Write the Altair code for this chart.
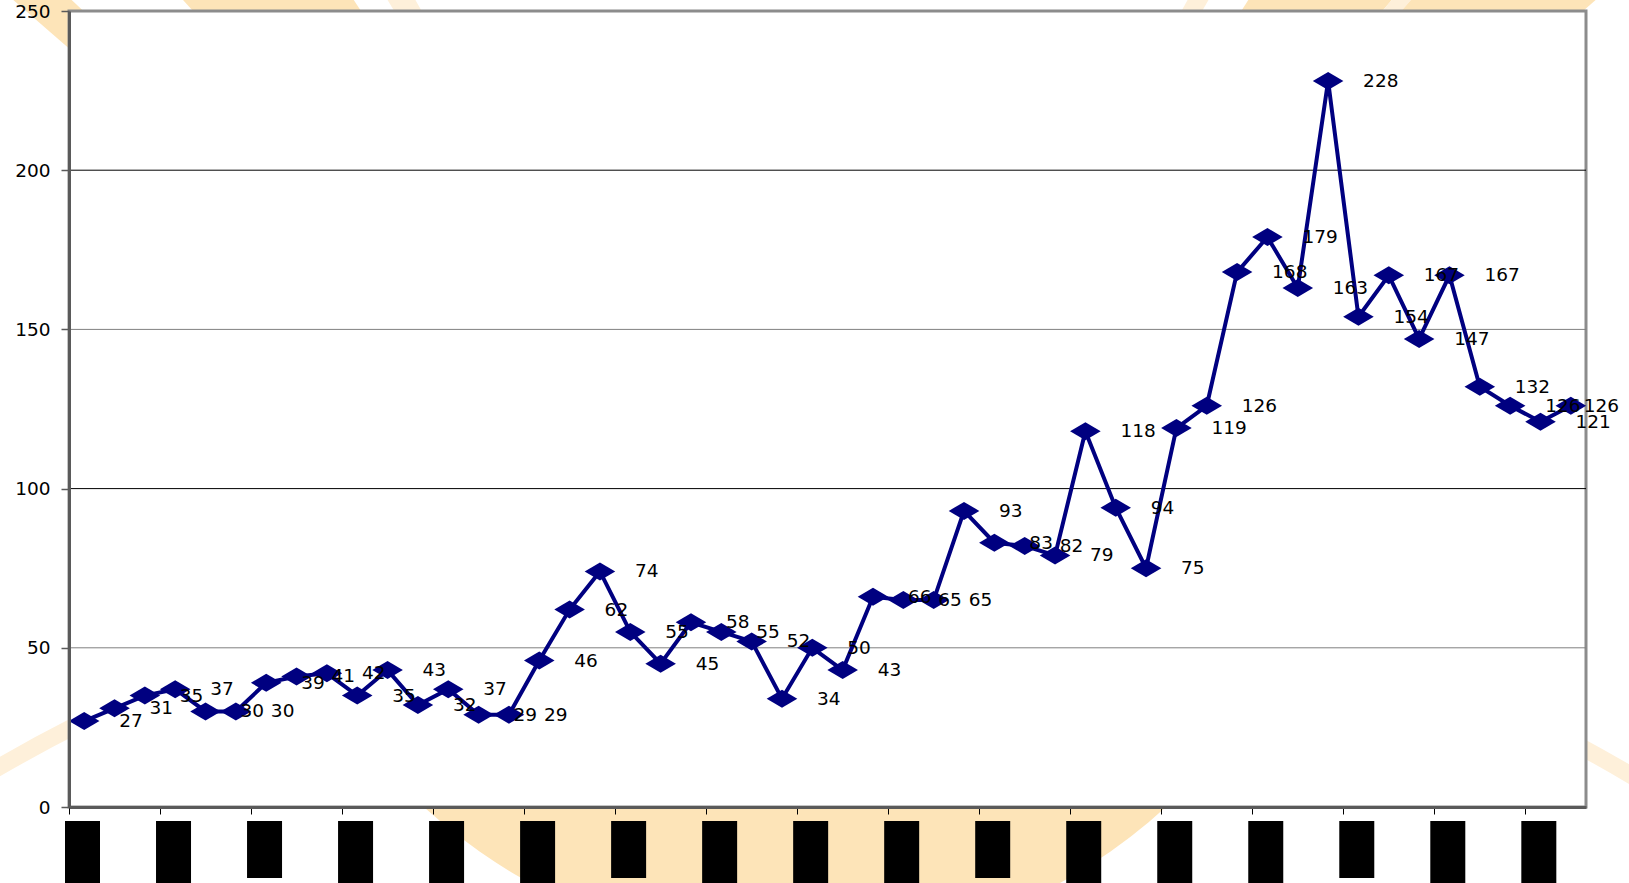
import altair as alt
import pandas as pd

# Monthly counts, one value per period (50 periods)
values = [27, 31, 35, 37, 30, 30, 39, 41, 42, 35,
          43, 32, 37, 29, 29, 46, 62, 74, 55, 45,
          58, 55, 52, 34, 50, 43, 66, 65, 65, 93,
          83, 82, 79, 118, 94, 75, 119, 126, 168, 179,
          163, 228, 154, 167, 147, 167, 132, 126, 121, 126]

# Category-axis tick marks (every third period) and their hidden labels
tick_marks = [0, 3, 6, 9, 12, 15, 18, 21, 24, 27, 30, 33, 36, 39, 42, 45, 48]
label_short = [False, False, True, False, False, False, True, False, False,
               False, True, False, False, False, True, False, False]

y_ticks = [0, 50, 100, 150, 200, 250]
grid_levels = [50, 100, 150, 200]
grid_shades = ["#808080", "#000000", "#808080", "#000000"]

W, H = 1517, 796
PEACH = "#FDE4B8"
LIGHT = "#FEF0DA"
NAVY = "#000080"
FONT = "DejaVu Sans"
FSIZE = 18.5

n = len(values)
df = pd.DataFrame({"pos": [i + 0.5 for i in range(n)], "value": values,
                   "last": [i == n - 1 for i in range(n)]})
boxes = pd.DataFrame({"tick": tick_marks, "short": label_short})
grid_df = pd.DataFrame({"level": grid_levels, "shade": grid_shades})
one = pd.DataFrame({"k": [0]})

x_scale = alt.Scale(domain=[0, 50], nice=False, zero=False)
y_scale = alt.Scale(domain=[0, 250], nice=False)

# Decorative background: sun rays, a large disc and a faint ring (pixel space)
wedges = [
    # cx, cy, inner r, outer r, theta start, theta end, colour
    (738, 679, 0, 1200, 5.428, 5.466, PEACH),
    (738, 679, 0, 1200, 5.548, 5.702, PEACH),
    (738, 679, 0, 1200, 5.737, 5.767, LIGHT),
    (738, 679, 0, 1200, 0.504, 0.527, LIGHT),
    (738, 679, 0, 1200, 0.569, 0.703, PEACH),
    (738, 679, 0, 1200, 0.703, 0.719, LIGHT),
    (738, 679, 0, 1200, 0.719, 0.852, PEACH),
    (726, 390, 0, 550, 1.745, 4.538, PEACH),
    (739, 2159, 1611, 1628, 5.72, 6.2832, LIGHT),
    (739, 2159, 1611, 1628, 0.0, 0.56, LIGHT),
]
deco_layers = []
for cx, cy, r0, r1, t0, t1, col in wedges:
    deco_layers.append(
        alt.Chart(one).mark_arc(theta=t0, theta2=t1, radius=r1, radius2=r0,
                                color=col, stroke=None)
        .encode(x=alt.value(cx), y=alt.value(cy))
    )

# White plot panel with a grey frame
panel = alt.Chart(one).mark_rect(fill="white", stroke="#8c8c8c", strokeWidth=3).encode(
    x=alt.value(0), x2=alt.value(W), y=alt.value(0), y2=alt.value(H)
)

grid = alt.Chart(grid_df).mark_rule(strokeWidth=1).encode(
    y=alt.Y("level:Q", scale=y_scale),
    color=alt.Color("shade:N", scale=None),
)

x_enc = alt.X("pos:Q", scale=x_scale,
              axis=alt.Axis(values=tick_marks, labels=False, ticks=True, tickSize=7,
                            tickColor="black", tickWidth=1, domainColor="#5a5a5a",
                            domainWidth=3, grid=False, title=None, zindex=1))
y_enc = alt.Y("value:Q", scale=y_scale,
              axis=alt.Axis(values=y_ticks, labelFont=FONT, labelFontSize=FSIZE,
                            labelColor="black", tickSize=8, tickColor="#5a5a5a",
                            tickWidth=1.5, labelPadding=11, domainColor="#5a5a5a",
                            domainWidth=3, grid=False, title=None, zindex=1))

base = alt.Chart(df)
line = base.mark_line(color=NAVY, strokeWidth=4).encode(x=x_enc, y=y_enc)
points = base.mark_point(shape="M-1.7,0L0,-1L1.7,0L0,1Z", filled=True, size=324,
                         color=NAVY, opacity=1).encode(x="pos:Q", y="value:Q")
labels = base.transform_filter("!datum.last").mark_text(
    align="left", baseline="middle", dx=35, font=FONT, fontSize=FSIZE, color="black"
).encode(x="pos:Q", y="value:Q", text="value:Q")
# the final label is pulled in so it stays inside the chart
last_label = base.transform_filter("datum.last").mark_text(
    align="left", baseline="middle", dx=13, font=FONT, fontSize=FSIZE, color="black"
).encode(x="pos:Q", y="value:Q", text="value:Q")

box_long = alt.Chart(boxes).transform_filter("!datum.short").mark_rect(
    color="black", xOffset=-4, x2Offset=31).encode(
    x=alt.X("tick:Q", scale=x_scale), x2="tick", y=alt.value(810), y2=alt.value(880))
box_short = alt.Chart(boxes).transform_filter("datum.short").mark_rect(
    color="black", xOffset=-4, x2Offset=31).encode(
    x=alt.X("tick:Q", scale=x_scale), x2="tick", y=alt.value(810), y2=alt.value(867))

chart = alt.layer(*deco_layers, panel, grid, line, points, labels, last_label,
                  box_long, box_short).properties(
    width=W, height=H,
    autosize=alt.AutoSizeParams(type="none"),
    padding={"left": 69, "top": 11, "right": 43, "bottom": 76},
    background="white",
).configure_view(stroke=None)

chart.save("out.html", embed_options={"renderer": "svg", "actions": False})
